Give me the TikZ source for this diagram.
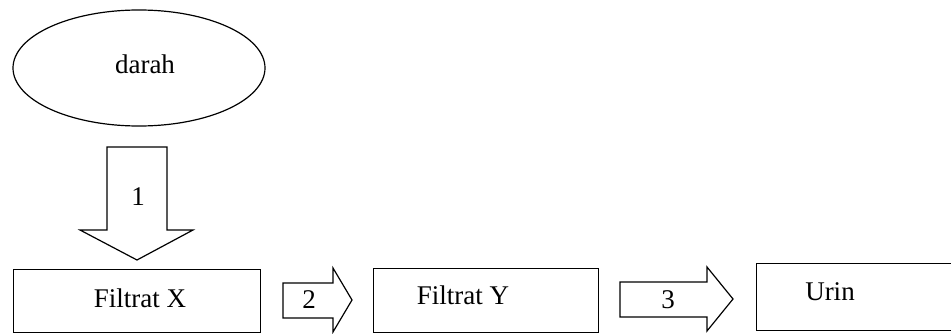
\documentclass[tikz,border=0pt]{standalone}
\usepackage{fontspec}
\setmainfont{Liberation Serif}
\usetikzlibrary{shapes.geometric}
\begin{document}
\begin{tikzpicture}[x=1pt,y=-1pt,
  line width=1.2pt,
  txt/.style={font=\fontsize{27}{30}\selectfont, inner sep=0pt},
  boxshape/.style={draw, rectangle, inner sep=0pt, anchor=north west},
  blockarrow/.style={draw, line join=miter}]
\useasboundingbox (0,0) rectangle (951,334);
\begin{scope}
\clip (0,0) rectangle (951,334);
% ellipse
\node[draw, ellipse, minimum width=252pt, minimum height=116pt, inner sep=0pt] (darah) at (139,68) {};
\node[txt] (darahT) at (145,64) {darah};
% boxes
\node[boxshape, minimum width=247pt, minimum height=63pt] (fx) at (13,269) {};
\node[txt] (fxT) at (140,298) {Filtrat X};
\node[boxshape, minimum width=225pt, minimum height=64pt] (fy) at (373,268) {};
\node[txt] (fyT) at (463,295) {Filtrat Y};
\node[boxshape, minimum width=210pt, minimum height=67pt] (ur) at (756,263) {};
\node[txt] (urT) at (830,292) {Urin};
% arrow 1
\draw[blockarrow] (107,147) -- (167,147) -- (167,230) -- (193,230) -- (137,260) -- (80,230) -- (107,230) -- cycle;
\node[txt] (a1) at (138,197) {1};
% arrow 2
\draw[blockarrow] (283,283) -- (333,283) -- (333,268) -- (352,300) -- (333,332) -- (333,318) -- (283,318) -- cycle;
\node[txt] (a2) at (309,300) {2};
% arrow 3
\draw[blockarrow] (620,282) -- (707,282) -- (707,267) -- (733,299) -- (707,331) -- (707,317) -- (620,317) -- cycle;
\node[txt] (a3) at (668,300) {3};
\end{scope}
\end{tikzpicture}
\end{document}
